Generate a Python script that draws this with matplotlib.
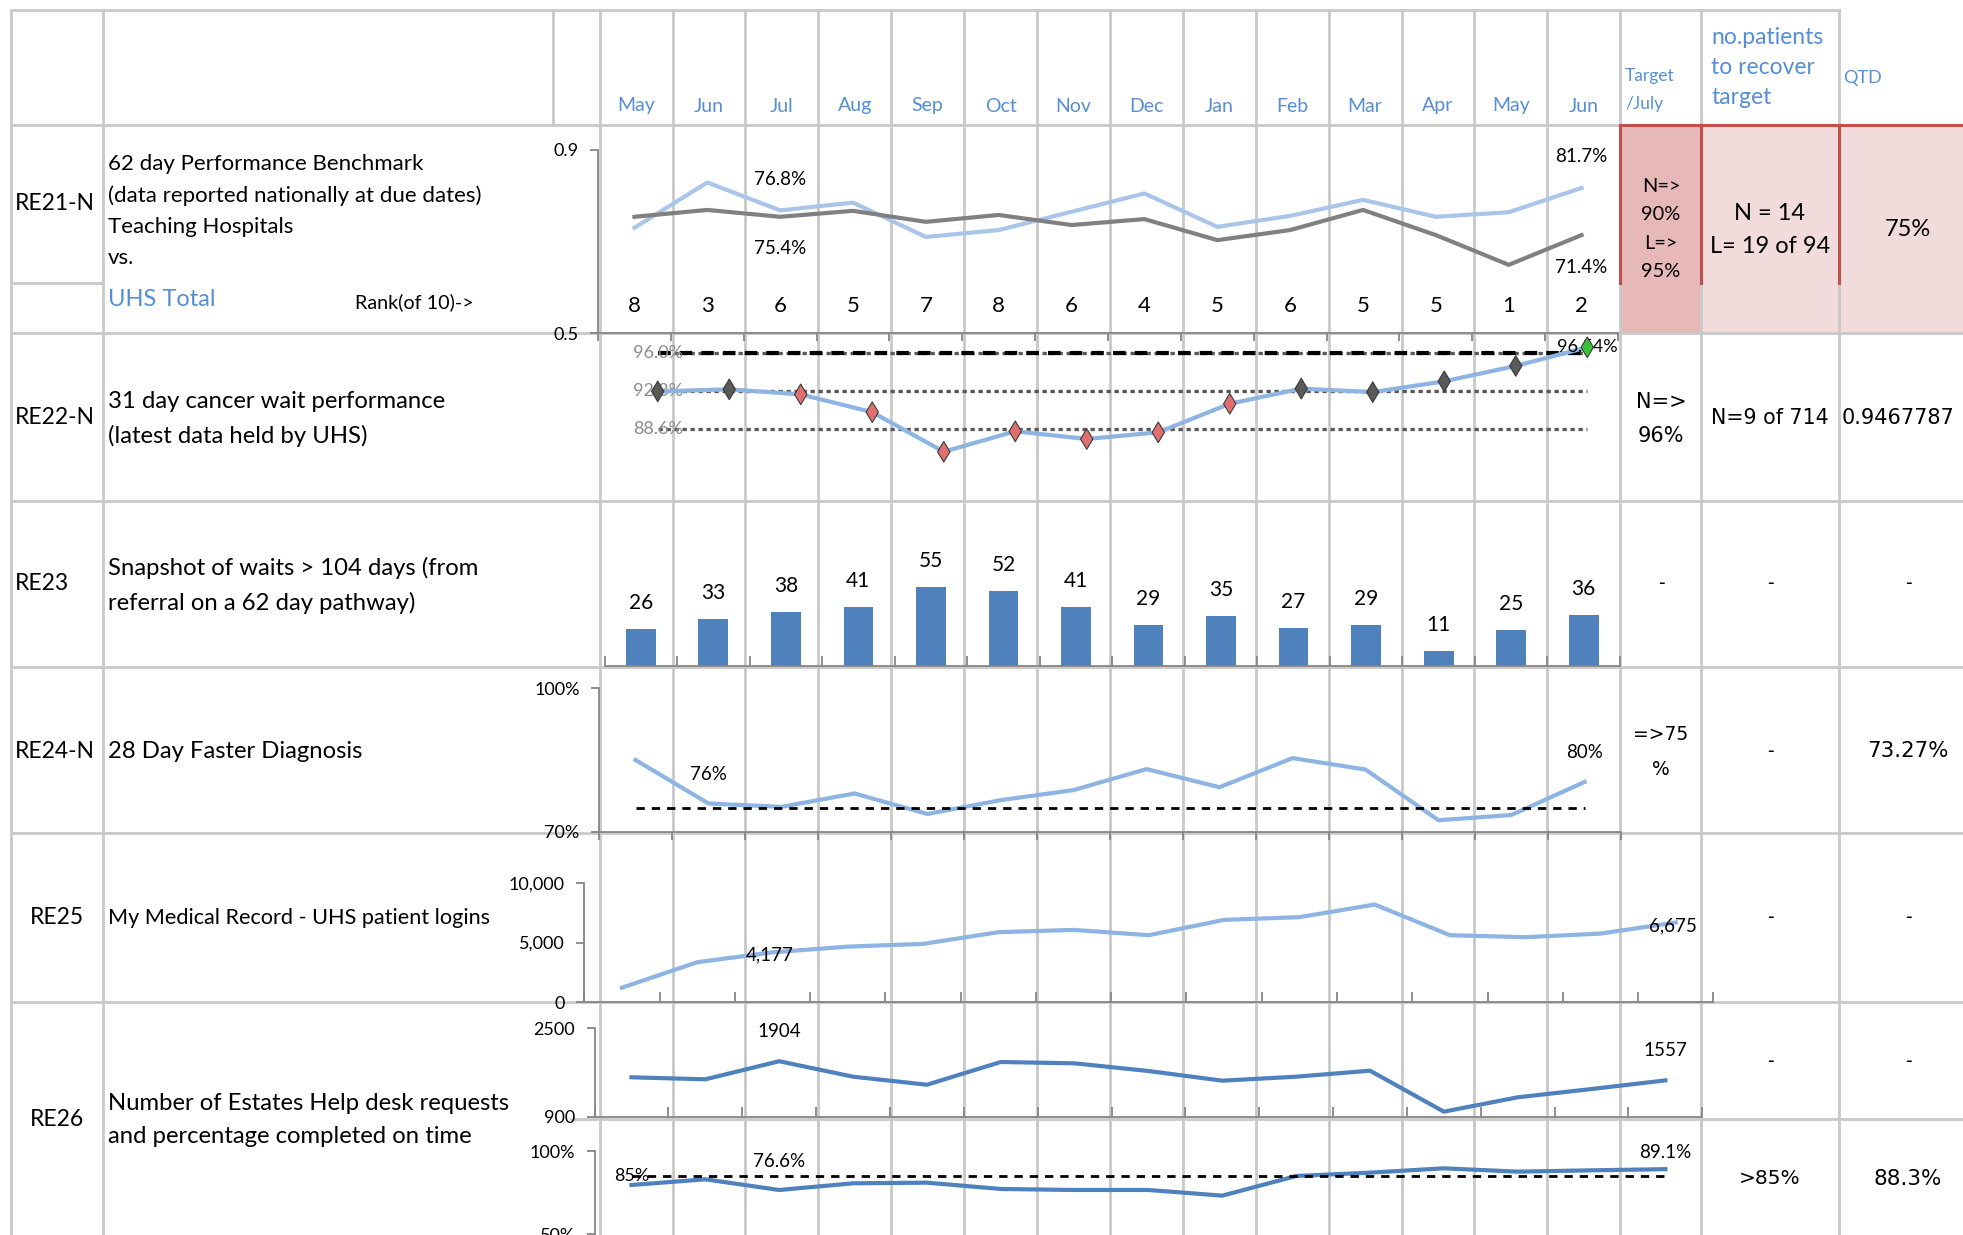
import numpy as np
import matplotlib.pyplot as plt
from matplotlib.ticker import FuncFormatter

plt.rcParams['font.family'] = ['Lato', 'DejaVu Sans']

W, H = 1963, 1235

months = ['May', 'Jun', 'Jul', 'Aug', 'Sep', 'Oct', 'Nov', 'Dec', 'Jan', 'Feb', 'Mar', 'Apr', 'May', 'Jun']

# RE21 - 62 day benchmark, UHS vs teaching hospitals
uhs_62 = [0.730, 0.829, 0.768, 0.785, 0.710, 0.725, 0.765, 0.805, 0.732, 0.756, 0.791, 0.754, 0.764, 0.817]
teach_62 = [0.754, 0.769, 0.754, 0.767, 0.743, 0.758, 0.736, 0.749, 0.703, 0.725, 0.769, 0.714, 0.649, 0.714]
rank_62 = [8, 3, 6, 5, 7, 8, 6, 4, 5, 6, 5, 5, 1, 2]

# RE22 - 31 day wait (SPC style)
wait_31 = [92.25, 92.45, 91.96, 90.23, 86.38, 88.37, 87.62, 88.27, 91.05, 92.52, 92.18, 93.23, 94.73, 96.54]
wait_31_col = ['#595959', '#595959', '#e07070', '#e07070', '#e07070', '#e07070', '#e07070',
               '#e07070', '#e07070', '#595959', '#595959', '#595959', '#595959', '#3cc13c']
mean_31, ucl_31, lcl_31, target_31 = 92.3, 96.0, 88.6, 96.0

# RE23 - waits > 104 days
waits_104 = [26, 33, 38, 41, 55, 52, 41, 29, 35, 27, 29, 11, 25, 36]

# RE24 - 28 day faster diagnosis (%)
fdd_28 = [85.0, 75.9, 75.2, 78.0, 73.7, 76.6, 78.7, 83.1, 79.3, 85.4, 83.0, 72.4, 73.5, 80.4]
fdd_target = 75

# RE25 - patient logins
logins = [1223, 3350, 4177, 4657, 4883, 5862, 6055, 5610, 6893, 7119, 8174, 5610, 5444, 5745, 6675]

# RE26 - estates help desk requests and % on time
requests = [1613, 1577, 1904, 1624, 1479, 1890, 1866, 1727, 1552, 1624, 1733, 991, 1251, 1401, 1557]
on_time = [79.6, 83.0, 76.6, 80.6, 81.0, 77.2, 76.6, 76.6, 73.2, 85.0, 87.0, 89.6, 87.6, 88.4, 89.1]
on_time_target = 85

GRID = '#c9c9c9'
HEAD = '#558ed5'
SPINE = '#868686'
LIGHT = '#8db4e2'

fig = plt.figure(figsize=(W / 100, H / 100), dpi=100)
bg = fig.add_axes([0, 0, 1, 1])
bg.set_xlim(0, W)
bg.set_ylim(H, 0)
bg.axis('off')


def px_axes(x0, y0, x1, y1):
    ax = fig.add_axes([x0 / W, 1 - y1 / H, (x1 - x0) / W, (y1 - y0) / H])
    ax.set_facecolor('none')
    for s in ax.spines.values():
        s.set_color(SPINE)
        s.set_linewidth(1.3)
    ax.tick_params(colors=SPINE, labelcolor='black', labelsize=13, width=1.3)
    return ax


# table grid
month_edges = np.linspace(599.6, 1620.3, 15)
tgt_r, pat_r = 1700.5, 1838.5
row_y = [125, 333, 501, 666.5, 833, 1002]

bg.fill_between([1620.3, tgt_r], 125, 333, color='#e6b8b7', lw=0)
bg.fill_between([tgt_r, W], 125, 333, color='#f2dcdb', lw=0)

for x in [10.7, 102.7] + list(month_edges) + [tgt_r, pat_r]:
    bg.plot([x, x], [9.5, H], color=GRID, lw=2)
bg.plot([552.7, 552.7], [9.5, 125], color=GRID, lw=2)
bg.plot([10.7, pat_r], [9.5, 9.5], color=GRID, lw=2)
for y in row_y:
    bg.plot([10.7, W], [y, y], color=GRID, lw=2)
bg.plot([10.7, 102.7], [283, 283], color=GRID, lw=2)
bg.plot([571, W], [1119, 1119], color=GRID, lw=2)

# red outline on the 62 day cells
bg.plot([1620.3, W], [125, 125], color='#c0504d', lw=2.2)
for x in [1620.3, tgt_r, pat_r]:
    bg.plot([x, x], [125, 283], color='#c0504d', lw=2.2)

# header row
centers = (month_edges[:-1] + month_edges[1:]) / 2
for cx, m in zip(centers, months):
    bg.text(cx, 106, m, color=HEAD, fontsize=14, ha='center', va='center')
bg.text(1625, 90, 'Target\n/July', color=HEAD, fontsize=12.5, ha='left', va='center', linespacing=1.85)
bg.text(1711, 67.5, 'no.patients\nto recover\ntarget', color=HEAD, fontsize=16.5, ha='left',
        va='center', linespacing=1.53)
bg.text(1843, 78, 'QTD', color=HEAD, fontsize=13, ha='left', va='center')

# row codes and descriptions
codes = [('RE21-N', 15, 204, 'left'), ('RE22-N', 15, 418, 'left'), ('RE23', 15, 584, 'left'),
         ('RE24-N', 15, 751, 'left'), ('RE25', 56.7, 918, 'center'), ('RE26', 56.7, 1120, 'center')]
for txt, x, y, ha in codes:
    bg.text(x, y, txt, fontsize=16.5, ha=ha, va='center')

descs = [('62 day Performance Benchmark\n(data reported nationally at due dates)\nTeaching Hospitals\nvs.',
          211, 16, 1.69),
         ('31 day cancer wait performance\n(latest data held by UHS)', 419, 17.2, 1.71),
         ('Snapshot of waits > 104 days (from\nreferral on a 62 day pathway)', 585, 17.2, 1.71),
         ('28 Day Faster Diagnosis', 751, 17.2, 1.71),
         ('My Medical Record - UHS patient logins', 918, 15.6, 1.71),
         ('Number of Estates Help desk requests\nand percentage completed on time', 1120, 17.2, 1.71)]
for txt, y, fs, ls in descs:
    bg.text(108, y, txt, fontsize=fs, ha='left', va='center', linespacing=ls)
bg.text(108, 300, 'UHS Total', color=HEAD, fontsize=17, ha='left', va='center')
bg.text(355, 302, 'Rank(of 10)->', fontsize=14.2, ha='left', va='center')

# right hand cells
bg.text(1661, 229, 'N=>\n90%\nL=>\n95%', fontsize=14.4, ha='center', va='center', linespacing=1.82)
bg.text(1770, 230, 'N = 14\nL= 19 of 94', fontsize=17, ha='center', va='center', linespacing=1.72)
bg.text(1908, 229, '75%', fontsize=17, ha='center', va='center')

cell_font = 'DejaVu Sans'
bg.text(1661, 419, 'N=>\n96%', family=cell_font, fontsize=15, ha='center', va='center', linespacing=1.88)
bg.text(1770, 418, 'N=9 of 714', family=cell_font, fontsize=14.8, ha='center', va='center')
bg.text(1842, 418, '0.9467787', family=cell_font, fontsize=15, ha='left', va='center')
for x in [1661, 1770, 1908]:
    bg.text(x, 583, '-', family=cell_font, fontsize=13.5, ha='center', va='center')
bg.text(1661, 752, '=>75\n%', family=cell_font, fontsize=13.5, ha='center', va='center', linespacing=2.09)
bg.text(1770, 751, '-', family=cell_font, fontsize=13.5, ha='center', va='center')
bg.text(1908, 751, '73.27%', family=cell_font, fontsize=15.4, ha='center', va='center')
for x in [1770, 1908]:
    bg.text(x, 917, '-', family=cell_font, fontsize=13.5, ha='center', va='center')
    bg.text(x, 1062, '-', family=cell_font, fontsize=13.5, ha='center', va='center')
bg.text(1770, 1179, '>85%', family=cell_font, fontsize=14.5, ha='center', va='center')
bg.text(1908, 1179, '88.3%', family=cell_font, fontsize=15.5, ha='center', va='center')

n14 = np.arange(14)
n15 = np.arange(15)
edges14 = np.arange(-0.5, 14, 1)
edges15 = np.arange(-0.5, 15, 1)

# RE21 chart
ax = px_axes(598, 150, 1618, 333)
ax.plot(n14, uhs_62, color='#a9c6ea', lw=3)
ax.plot(n14, teach_62, color='#808080', lw=3)
ax.set_xlim(-0.5, 13.5)
ax.set_ylim(0.5, 0.9)
ax.set_yticks([0.5, 0.9])
ax.yaxis.set_major_formatter(FuncFormatter(lambda v, p: f'{v:.1f}'))
ax.set_xticks(edges14)
ax.set_xticklabels([])
ax.tick_params(length=6, pad=8)
ax.spines[['top', 'right']].set_visible(False)
for i in [2, 13]:
    ax.annotate(f'{uhs_62[i]:.1%}', (i, uhs_62[i]), xytext=(0, 31), textcoords='offset pixels',
                ha='center', va='center', fontsize=13.5)
    ax.annotate(f'{teach_62[i]:.1%}', (i, teach_62[i]), xytext=(0, -32), textcoords='offset pixels',
                ha='center', va='center', fontsize=13.5)
for i, r in enumerate(rank_62):
    ax.text(i, 0.145, str(r), transform=ax.get_xaxis_transform(), ha='center', va='center', fontsize=16)

# RE22 chart
ax = px_axes(622, 333, 1623, 501)
ax.set_xlim(-0.5, 13.5)
ax.set_ylim(81.59, 97.93)
ax.axis('off')
for lvl in [ucl_31, mean_31, lcl_31]:
    ax.plot([0, 13], [lvl, lvl], color='#595959', lw=2.4, ls=(0, (1.3, 1.1)))
    ax.text(0, lvl, f'{lvl:.1f}%', color='#8c8c8c', fontsize=13, ha='center', va='center')
ax.plot([0, 13], [target_31, target_31], color='black', lw=3, ls=(0, (3, 2.2)))
ax.plot(n14, wait_31, color=LIGHT, lw=3, zorder=3)
ax.scatter(n14, wait_31, marker='d', s=110, c=wait_31_col, edgecolors='#3a3a3a', linewidths=0.8, zorder=4)
ax.text(13, wait_31[-1], f'{wait_31[-1]:.2f}%', fontsize=13, ha='center', va='center', zorder=3)

# RE23 chart
ax = px_axes(604.5, 501, 1620, 666.5)
ax.bar(n14, waits_104, width=0.41, color='#4f81bd')
ax.set_xlim(-0.5, 13.5)
ax.set_ylim(0, 114.7)
for i, v in enumerate(waits_104):
    ax.annotate(str(v), (i, v), xytext=(0, 26), textcoords='offset pixels', ha='center', va='center',
                fontsize=15)
ax.spines[['top', 'right', 'left']].set_visible(False)
ax.set_yticks([])
ax.set_xticks(edges14)
ax.set_xticklabels([])
ax.tick_params(axis='x', direction='in', length=7)

# RE24 chart
ax = px_axes(599, 688.3, 1621, 831.7)
ax.plot(n14, fdd_28, color=LIGHT, lw=3)
ax.plot([0, 13], [fdd_target, fdd_target], color='black', lw=2, ls=(0, (3, 2.5)))
ax.set_xlim(-0.5, 13.5)
ax.set_ylim(70, 100)
ax.set_yticks([70, 100])
ax.yaxis.set_major_formatter(FuncFormatter(lambda v, p: f'{v:.0f}%'))
ax.set_xticks(edges14)
ax.set_xticklabels([])
ax.tick_params(length=6, pad=8)
ax.spines[['top', 'right']].set_visible(False)
for i in [1, 13]:
    ax.annotate(f'{fdd_28[i]:.0f}%', (i, fdd_28[i]), xytext=(0, 29), textcoords='offset pixels',
                ha='center', va='center', fontsize=13.5)

# RE25 chart
ax = px_axes(584.3, 882.7, 1713.4, 1002.3)
ax.plot(n15, logins, color=LIGHT, lw=3)
ax.set_xlim(-0.5, 14.5)
ax.set_ylim(0, 10000)
ax.set_yticks([0, 5000, 10000])
ax.yaxis.set_major_formatter(FuncFormatter(lambda v, p: f'{v:,.0f}'))
ax.set_xticks(edges15)
ax.set_xticklabels([])
ax.tick_params(axis='y', length=6, pad=8)
ax.tick_params(axis='x', direction='in', length=7)
ax.spines[['top', 'right']].set_visible(False)
for i in [2, 14]:
    ax.annotate(f'{logins[i]:,.0f}', (i, logins[i]), xytext=(-3, -3), textcoords='offset pixels',
                ha='center', va='center', fontsize=13.5)

# RE26 charts
ax = px_axes(594.6, 1028.3, 1702.3, 1116.7)
ax.plot(n15, requests, color='#4f81bd', lw=3)
ax.set_xlim(-0.5, 14.5)
ax.set_ylim(900, 2500)
ax.set_yticks([900, 2500])
ax.set_xticks(edges15)
ax.set_xticklabels([])
ax.tick_params(axis='y', length=6, pad=8)
ax.tick_params(axis='x', direction='in', length=7)
ax.spines[['top', 'right']].set_visible(False)
for i in [2, 14]:
    ax.annotate(str(requests[i]), (i, requests[i]), xytext=(0, 30), textcoords='offset pixels',
                ha='center', va='center', fontsize=13.5)

ax = px_axes(594.6, 1151, 1702.3, 1234.3)
ax.plot(n15, on_time, color='#4f81bd', lw=3)
ax.plot([0, 14], [on_time_target, on_time_target], color='black', lw=2, ls=(0, (3, 2.5)))
ax.set_xlim(-0.5, 14.5)
ax.set_ylim(50, 100)
ax.set_yticks([50, 100])
ax.yaxis.set_major_formatter(FuncFormatter(lambda v, p: f'{v:.0f}%'))
ax.set_xticks([])
ax.tick_params(axis='y', length=6, pad=8)
ax.spines[['top', 'right', 'bottom']].set_visible(False)
ax.text(0, on_time_target, f'{on_time_target}%', fontsize=13, ha='center', va='center')
ax.annotate(f'{on_time[2]:.1f}%', (2, on_time[2]), xytext=(0, 28), textcoords='offset pixels',
            ha='center', va='center', fontsize=13.5)
ax.annotate(f'{on_time[14]:.1f}%', (14, on_time[14]), xytext=(0, 17), textcoords='offset pixels',
            ha='center', va='center', fontsize=13.5)

fig.savefig('out.png', dpi=100)
